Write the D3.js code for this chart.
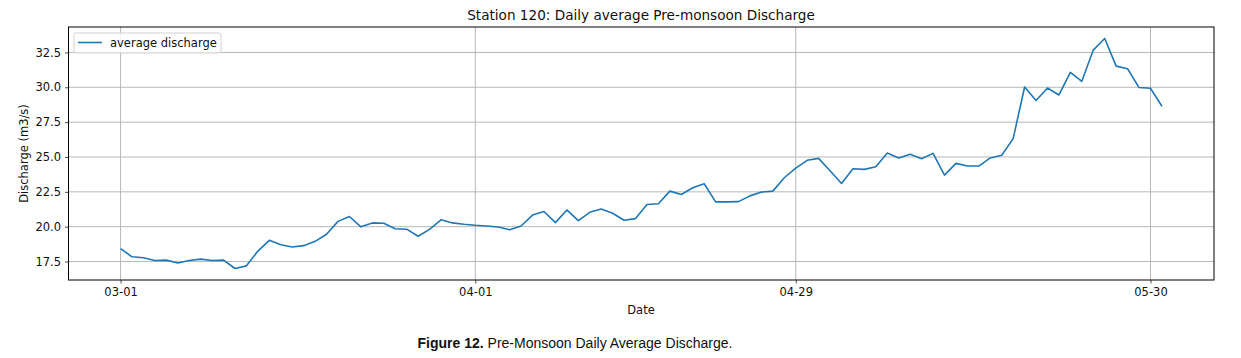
<!DOCTYPE html>
<html><head><meta charset="utf-8">
<script src="https://cdn.jsdelivr.net/npm/d3@7"></script>
<style>
html,body{margin:0;padding:0;background:#fff;}
svg{display:block;}
</style></head>
<body>
<script>
const startDate = "2021-03-01";
const discharge = [
18.42,17.84,17.77,17.57,17.6,17.4,17.57,17.67,17.57,17.6,
17.0,17.19,18.25,19.02,18.71,18.54,18.64,18.95,19.46,20.38,
20.73,19.99,20.27,20.25,19.85,19.82,19.31,19.81,20.49,20.27,
20.17,20.1,20.05,19.98,19.78,20.05,20.83,21.09,20.29,21.2,
20.43,21.03,21.27,20.96,20.46,20.58,21.59,21.64,22.55,22.31,
22.79,23.08,21.78,21.78,21.8,22.21,22.48,22.55,23.51,24.2,
24.76,24.9,24.01,23.1,24.16,24.11,24.3,25.29,24.93,25.19,
24.88,25.26,23.7,24.54,24.35,24.35,24.93,25.12,26.32,30.02,
29.05,29.95,29.45,31.07,30.43,32.67,33.5,31.52,31.33,29.98,
29.93,28.64];
const xTickDates = ["2021-03-01","2021-04-01","2021-04-29","2021-05-30"];
const xTickLabels = ["03-01","04-01","04-29","05-30"];
const yTicks = [17.5,20.0,22.5,25.0,27.5,30.0,32.5];
const seriesName = "average discharge";
const titleText = "Station 120: Daily average Pre-monsoon Discharge";
const xLabel = "Date";
const yLabel = "Discharge (m3/s)";

const W = 1241, H = 358;
const m = {left:68.5, right:1241-1214, top:27, bottom:358-280};
const parse = d3.utcParse("%Y-%m-%d");
const t0 = parse(startDate);
const data = discharge.map((v,i)=>({date:d3.utcDay.offset(t0,i), v}));

const svg = d3.select("body").append("svg").attr("width",W).attr("height",H);

const ext = d3.extent(data,d=>d.date);
const span = ext[1]-ext[0];
const x = d3.scaleUtc()
  .domain([new Date(+ext[0]-span*0.05), new Date(+ext[1]+span*0.05)])
  .range([m.left, W-m.right]);
const yExt = d3.extent(discharge);
const ys = yExt[1]-yExt[0];
const y = d3.scaleLinear()
  .domain([yExt[0]-ys*0.05, yExt[1]+ys*0.05])
  .range([H-m.bottom, m.top]);

const font = "DejaVu Sans";
const gridColor = "#b0b0b0";
const tickDates = xTickDates.map(parse);

// grid
svg.append("g").selectAll("line.h").data(yTicks).join("line")
  .attr("x1",m.left).attr("x2",W-m.right)
  .attr("y1",d=>y(d)).attr("y2",d=>y(d))
  .attr("stroke",gridColor).attr("stroke-width",0.9);
svg.append("g").selectAll("line.v").data(tickDates).join("line")
  .attr("x1",d=>x(d)).attr("x2",d=>x(d))
  .attr("y1",m.top).attr("y2",H-m.bottom)
  .attr("stroke",gridColor).attr("stroke-width",0.9);

// line
svg.append("path").datum(data)
  .attr("fill","none").attr("stroke","#1f77b4").attr("stroke-width",1.6)
  .attr("stroke-linejoin","round")
  .attr("d",d3.line().x(d=>x(d.date)).y(d=>y(d.v)));

// axes
const xAxis = d3.axisBottom(x).tickValues(tickDates)
  .tickFormat((d,i)=>xTickLabels[i]).tickSizeOuter(0).tickSize(3.5).tickPadding(4);
const gx = svg.append("g").attr("transform",`translate(0,${H-m.bottom})`).call(xAxis);
const yAxis = d3.axisLeft(y).tickValues(yTicks)
  .tickFormat(d3.format(".1f")).tickSizeOuter(0).tickSize(3.5).tickPadding(4);
const gy = svg.append("g").attr("transform",`translate(${m.left},0)`).call(yAxis);
[gx,gy].forEach(g=>{
  g.select(".domain").remove();
  g.selectAll("text").attr("font-family",font).attr("font-size",11.5).attr("fill","#111");
  g.selectAll("line").attr("stroke","#222").attr("stroke-width",0.8);
});

// frame
svg.append("rect").attr("x",m.left).attr("y",m.top)
  .attr("width",W-m.right-m.left).attr("height",H-m.bottom-m.top)
  .attr("fill","none").attr("stroke","#000").attr("stroke-width",1);

// title & labels
svg.append("text").attr("x",641).attr("y",20)
  .attr("text-anchor","middle").attr("font-family",font).attr("font-size",13.6)
  .attr("fill","#111").text(titleText);
svg.append("text").attr("x",641).attr("y",314)
  .attr("text-anchor","middle").attr("font-family",font).attr("font-size",11.5)
  .attr("fill","#111").text(xLabel);
svg.append("text").attr("transform",`translate(28,${(m.top+H-m.bottom)/2}) rotate(-90)`)
  .attr("text-anchor","middle").attr("font-family",font).attr("font-size",11.5)
  .attr("fill","#111").text(yLabel);

// legend
const lg = svg.append("g");
lg.append("rect").attr("x",74).attr("y",33).attr("width",147).attr("height",20)
  .attr("rx",2).attr("fill","#fff").attr("fill-opacity",0.8)
  .attr("stroke","#ccc").attr("stroke-width",0.9);
lg.append("line").attr("x1",78).attr("x2",102).attr("y1",42.5).attr("y2",42.5)
  .attr("stroke","#1f77b4").attr("stroke-width",1.6);
lg.append("text").attr("x",110).attr("y",46.5).attr("font-family",font)
  .attr("font-size",11.5).attr("fill","#111").text(seriesName);

// caption
const cap = svg.append("text").attr("x",575).attr("y",348)
  .attr("text-anchor","middle").attr("font-family","Liberation Sans, Arial, sans-serif")
  .attr("font-size",14).attr("fill","#111");
cap.append("tspan").attr("font-weight","bold").text("Figure 12.");
cap.append("tspan").text(" Pre-Monsoon Daily Average Discharge.");
</script>
</body></html>
